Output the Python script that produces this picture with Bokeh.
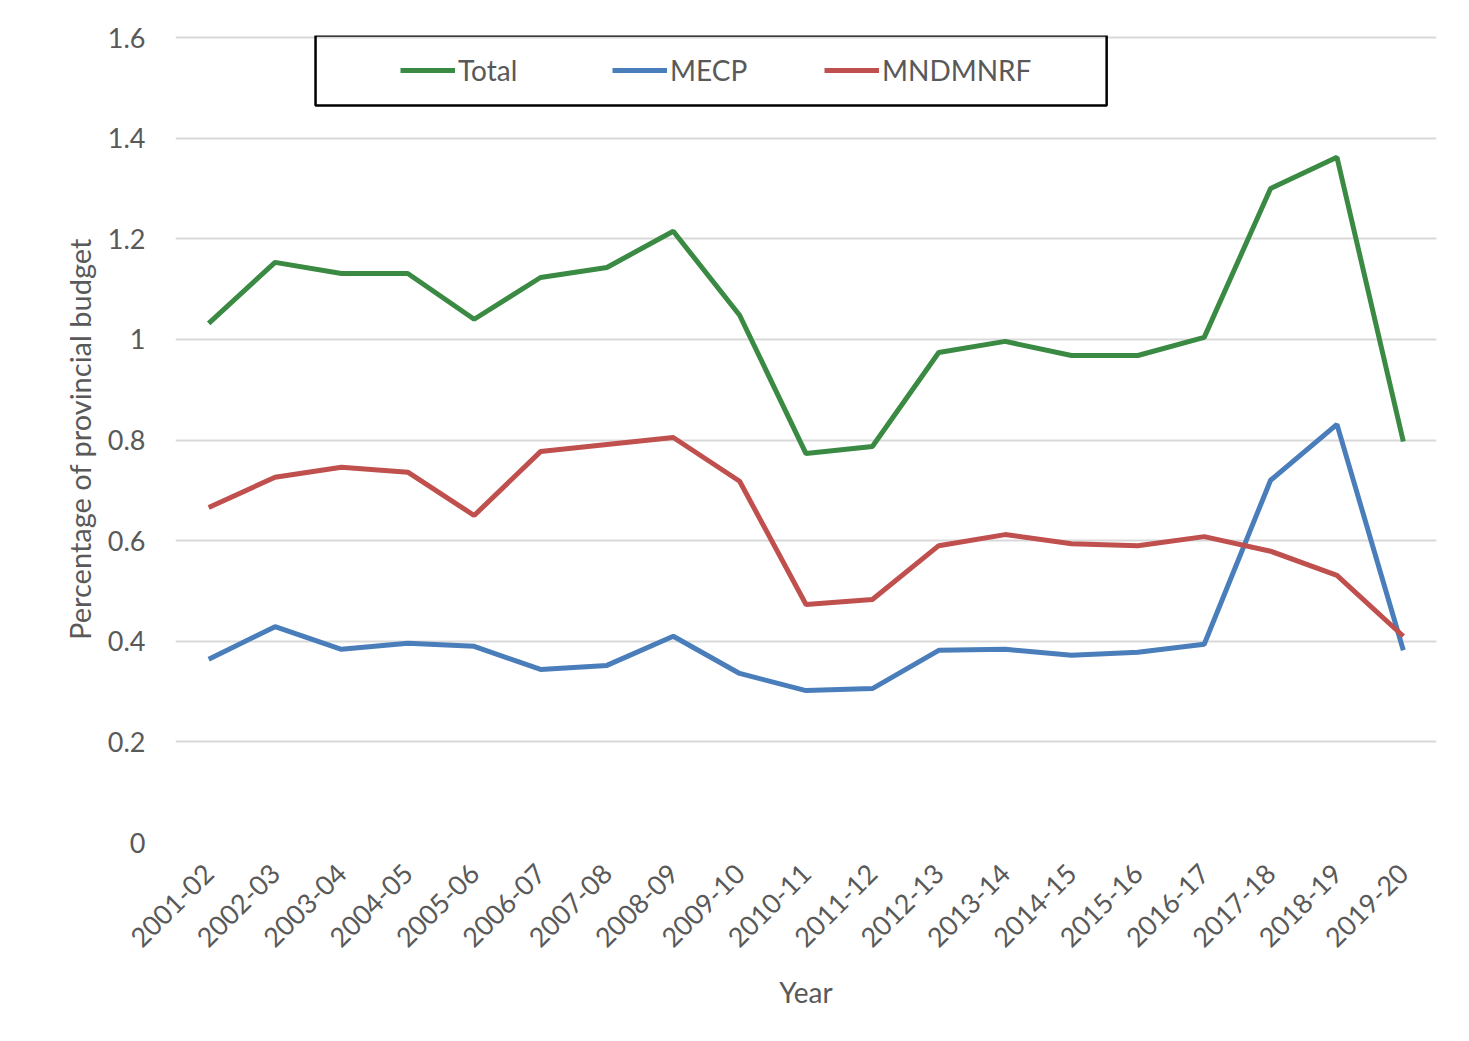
from math import pi
from bokeh.plotting import figure
from bokeh.models import (FactorRange, Range1d, Legend, LegendItem, BoxAnnotation,
                          FixedTicker, ColumnDataSource)
from bokeh.embed import file_html
from bokeh.resources import INLINE

years = ["2001-02", "2002-03", "2003-04", "2004-05", "2005-06", "2006-07", "2007-08",
         "2008-09", "2009-10", "2010-11", "2011-12", "2012-13", "2013-14", "2014-15",
         "2015-16", "2016-17", "2017-18", "2018-19", "2019-20"]
total = [1.032, 1.153, 1.131, 1.131, 1.040, 1.123, 1.143, 1.215, 1.048, 0.773,
         0.787, 0.974, 0.996, 0.968, 0.968, 1.004, 1.300, 1.362, 0.797]
mecp = [0.364, 0.429, 0.384, 0.396, 0.390, 0.344, 0.352, 0.410, 0.336, 0.302,
        0.306, 0.382, 0.384, 0.372, 0.378, 0.394, 0.720, 0.831, 0.382]
mndmnrf = [0.666, 0.726, 0.746, 0.736, 0.650, 0.777, 0.791, 0.805, 0.718, 0.473,
           0.483, 0.590, 0.612, 0.594, 0.590, 0.608, 0.579, 0.531, 0.410]
y_ticks = [0, 0.2, 0.4, 0.6, 0.8, 1.0, 1.2, 1.4, 1.6]
y_tick_labels = {0: "0", 0.2: "0.2", 0.4: "0.4", 0.6: "0.6", 0.8: "0.8", 1.0: "1",
                 1.2: "1.2", 1.4: "1.4", 1.6: "1.6"}

FONT = "Lato"
GREY = "#595959"

src = ColumnDataSource(dict(year=years, total=total, mecp=mecp, mndmnrf=mndmnrf))

p = figure(x_range=FactorRange(factors=years, range_padding=0),
           y_range=Range1d(0, 1.604),
           width=1461, height=1033, output_backend="svg", toolbar_location=None,
           min_border_left=175, min_border_right=25, min_border_top=35,
           min_border_bottom=191)
p.outline_line_color = None
p.background_fill_color = "white"
p.border_fill_color = "white"

r_total = p.line("year", "total", source=src, line_color="#3b8a44", line_width=5)
r_mecp = p.line("year", "mecp", source=src, line_color="#4a7ebb", line_width=5)
r_mnd = p.line("year", "mndmnrf", source=src, line_color="#c0504d", line_width=5)

# axes
p.yaxis.ticker = FixedTicker(ticks=y_ticks)
p.yaxis.major_label_overrides = y_tick_labels
for ax in (p.xaxis, p.yaxis):
    ax.axis_line_color = None
    ax.major_tick_line_color = None
    ax.minor_tick_line_color = None
    ax.major_label_text_font = FONT
    ax.major_label_text_font_size = "27px"
    ax.major_label_text_color = GREY
    ax.axis_label_text_font = FONT
    ax.axis_label_text_font_size = "28px"
    ax.axis_label_text_color = GREY
    ax.axis_label_text_font_style = "normal"

p.yaxis.axis_label = "Percentage of provincial budget"
p.yaxis.axis_label_text_font_size = "29px"
p.yaxis.major_label_standoff = 24
p.yaxis.axis_label_standoff = 8
p.xaxis.axis_label = "Year"
p.xaxis.major_label_orientation = pi / 4
p.xaxis.major_label_standoff = 20
p.xaxis.axis_label_standoff = 16

p.xgrid.grid_line_color = None
p.ygrid.grid_line_color = "#d9d9d9"
p.ygrid.grid_line_width = 2

# legend
legend = Legend(items=[LegendItem(label="Total", renderers=[r_total]),
                       LegendItem(label="MECP", renderers=[r_mecp]),
                       LegendItem(label="MNDMNRF", renderers=[r_mnd])],
                orientation="horizontal", location=(225, 755),
                padding=0, margin=0, spacing=30,
                glyph_width=55, glyph_height=20, label_standoff=3,
                label_width=124, label_height=20,
                label_text_font=FONT, label_text_font_size="28px",
                label_text_color=GREY,
                border_line_color=None, background_fill_alpha=0)
p.add_layout(legend, "center")

box = BoxAnnotation(left=2.11, right=14.03, bottom=1.465, top=1.604,
                    fill_alpha=0, line_color="black", line_alpha=1, line_width=2.5)
p.add_layout(box)

chart_border = BoxAnnotation(left=26, right=1465, top=5, bottom=1100,
                             left_units="canvas", right_units="canvas",
                             top_units="canvas", bottom_units="canvas",
                             fill_alpha=0, line_color="#d9d9d9", line_alpha=1,
                             line_width=2)
p.add_layout(chart_border)

open("out.html", "w").write(file_html(p, INLINE))
